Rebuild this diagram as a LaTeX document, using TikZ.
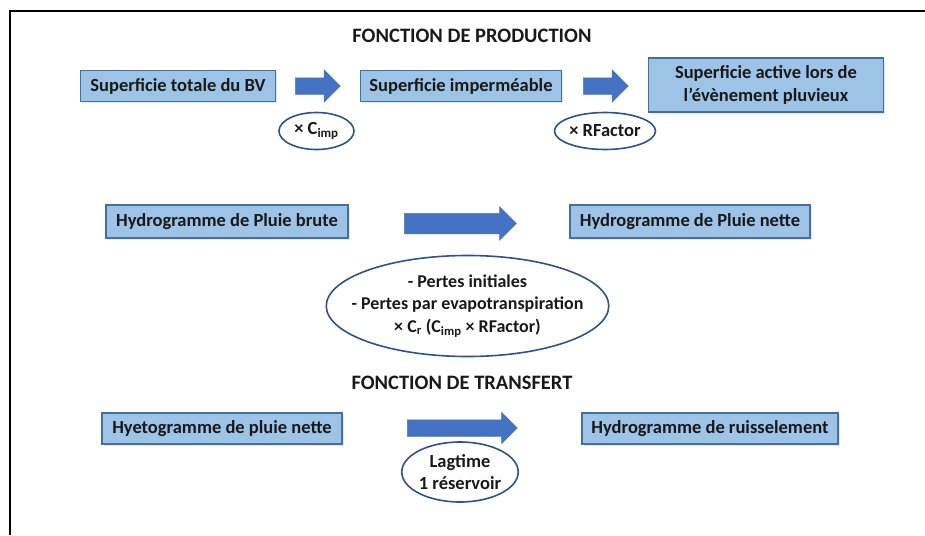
\documentclass[tikz,border=0pt]{standalone}
\usepackage{fontspec}
\setmainfont{Carlito}
\usetikzlibrary{shapes.geometric, shapes.arrows, shadows}

\definecolor{boxfill}{HTML}{9DC3E6}
\definecolor{boxline}{HTML}{41719C}
\definecolor{arrowfill}{HTML}{4472C4}
\definecolor{ringline}{HTML}{2F528F}

\begin{document}
\begin{tikzpicture}
        [x=1pt, y=-1pt,
        every node/.style={font=\bfseries\fontsize{18.5}{22.5}\selectfont, text=black!90},
        titletext/.style={font=\bfseries\fontsize{20.5}{24}\selectfont},
        bluebox/.style={draw=boxline, line width=1.8pt, fill=boxfill, minimum height=31pt, inner sep=2pt,
          drop shadow={opacity=0.2, shadow xshift=1.5pt, shadow yshift=-1.5pt}},
        fatarrow/.style={single arrow, anchor=west, fill=arrowfill, draw=ringline!80, line width=0.5pt,
          inner xsep=0pt, inner ysep=8pt, single arrow head extend=8pt},
        ring/.style={ellipse, draw=ringline, line width=1.6pt, fill=white, inner sep=0pt}]

    \useasboundingbox (0,0) rectangle (925,535);
    \draw[line width=2.5pt] (10,535) -- (10,11) -- (925,11);

    % production
    \begin{scope}
      \node[titletext] (prodtitle) at (472,36) {FONCTION DE PRODUCTION};
      \node[bluebox, minimum width=195pt] (bvtotal) at (178,86) {Superficie totale du BV};
      \node[fatarrow, minimum height=45pt] (arrA) at (295,86) {};
      \node[bluebox, minimum width=201pt] (bvimp) at (461,86) {Superficie imperméable};
      \node[fatarrow, minimum height=45pt] (arrB) at (583,86) {};
      \node[bluebox, minimum width=235pt, minimum height=54pt, align=center] (bvactive) at (766,85)
        {Superficie active lors de\\l’évènement pluvieux};
      \node[ring, minimum width=75pt, minimum height=37pt] (cimp) at (316.5,131) {× C\textsubscript{imp}};
      \node[ring, minimum height=37pt] (rfactor) at (605,131) {× RFactor};
    \end{scope}

    % pluie brute -> pluie nette
    \begin{scope}
      \node[bluebox, minimum width=242pt, minimum height=33pt] (brute) at (227,221.5) {Hydrogramme de Pluie brute};
      \node[fatarrow, minimum height=112pt, inner ysep=10pt, single arrow head extend=6.5pt] (arrC) at (404,223.5) {};
      \node[bluebox, minimum width=240pt, minimum height=33pt] (nette) at (690,221.5) {Hydrogramme de Pluie nette};
      \node[ring, minimum height=101pt, inner xsep=-16pt, align=center, font=\bfseries\fontsize{18}{22.5}\selectfont]
        (pertes) at (467.5,306)
        {- Pertes initiales\\- Pertes par evapotranspiration\\× C\textsubscript{r} (C\textsubscript{imp} × RFactor)};
    \end{scope}

    % transfert
    \begin{scope}
      \node[titletext] (transtitle) at (462,383) {FONCTION DE TRANSFERT};
      \node[bluebox, minimum width=240pt] (hyeto) at (222,428.5) {Hyetogramme de pluie nette};
      \node[fatarrow, minimum height=110pt, single arrow head extend=7.5pt] (arrD) at (407,428) {};
      \node[bluebox, minimum width=256pt] (ruissel) at (710,428.5) {Hydrogramme de ruisselement};
      \node[ring, minimum width=114pt, minimum height=60pt, align=center] (lagtime) at (460,472)
        {Lagtime\\1 réservoir};
    \end{scope}
\end{tikzpicture}
\end{document}
